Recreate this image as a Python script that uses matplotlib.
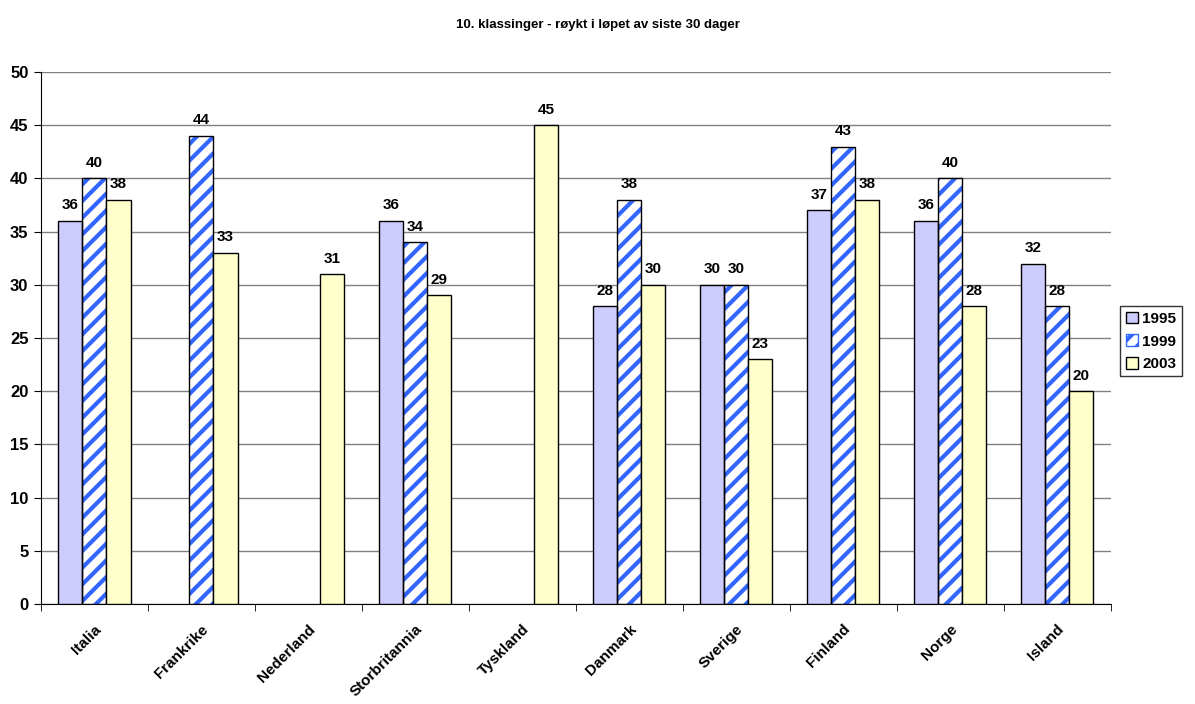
import numpy as np
import matplotlib.pyplot as plt
from matplotlib.patches import Patch
from matplotlib.transforms import ScaledTranslation

plt.rcParams['font.family'] = ['Liberation Sans', 'DejaVu Sans']
plt.rcParams['font.weight'] = 'bold'
plt.rcParams['hatch.linewidth'] = 3.0

countries = ['Italia', 'Frankrike', 'Nederland', 'Storbritannia', 'Tyskland',
             'Danmark', 'Sverige', 'Finland', 'Norge', 'Island']
years = ['1995', '1999', '2003']
v1995 = [36, np.nan, np.nan, 36, np.nan, 28, 30, 37, 36, 32]
v1999 = [40, 44, np.nan, 34, np.nan, 38, 30, 43, 40, 28]
v2003 = [38, 33, 31, 29, 45, 30, 23, 38, 28, 20]

fig = plt.figure(figsize=(11.95, 7.04), dpi=100)
ax = fig.add_axes([0.0343, 0.142, 0.895, 0.7557])

x = np.arange(len(countries))
w = 0.225
series = [v1995, v1999, v2003]

for i, vals in enumerate(series):
    pos = x + (i - 1) * w
    if i == 1:
        ax.bar(pos, vals, w, color='white', edgecolor='#3366ff', hatch='//',
               linewidth=0, zorder=2)
        ax.bar(pos, vals, w, fill=False, edgecolor='black', linewidth=1, zorder=3)
    else:
        fc = '#ccccff' if i == 0 else '#ffffcc'
        ax.bar(pos, vals, w, color=fc, edgecolor='black', linewidth=1, zorder=3)
    for px, v in zip(pos, vals):
        if not np.isnan(v):
            ax.text(px, v + 0.8, f'{v:.0f}', ha='center', va='bottom',
                    fontsize=11, fontweight='bold')

ax.set_xlim(-0.5, len(countries) - 0.5)
ax.set_ylim(0, 50)
ax.set_yticks(range(0, 51, 5))
ax.set_xticks(x)
ax.set_xticklabels(countries, rotation=45, ha='right', rotation_mode='anchor',
                   fontsize=11, fontweight='bold')
# nudge the rotated labels a little left of the group centre
offset = ScaledTranslation(-8 / 72, 0, fig.dpi_scale_trans)
for lab in ax.get_xticklabels():
    lab.set_transform(lab.get_transform() + offset)
ax.set_xticks(np.arange(-0.5, len(countries)), minor=True)
ax.tick_params(axis='x', which='major', length=0, pad=13)
ax.tick_params(axis='x', which='minor', length=5, direction='out')
ax.tick_params(axis='y', labelsize=12, length=5, direction='out', pad=4)
for lab in ax.get_yticklabels():
    lab.set_fontweight('bold')
ax.yaxis.grid(True, color='#808080', linewidth=1)
ax.set_axisbelow(True)
ax.spines['top'].set_visible(False)
ax.spines['right'].set_visible(False)

fig.text(0.5, 0.965, '10. klassinger - røykt i løpet av siste 30 dager',
         ha='center', va='center', fontsize=9.5, fontweight='bold')

handles = [Patch(facecolor='#ccccff', edgecolor='black'),
           Patch(facecolor='white', edgecolor='#3366ff', hatch='//'),
           Patch(facecolor='#ffffcc', edgecolor='black')]
leg = fig.legend(handles, years, loc='center left', bbox_to_anchor=(0.9375, 0.515),
                 frameon=True, fancybox=False, edgecolor='black', fontsize=11,
                 handlelength=0.8, handleheight=0.8, handletextpad=0.3,
                 borderpad=0.35, labelspacing=0.55, borderaxespad=0)
leg.get_frame().set_linewidth(1)

fig.savefig('out.png', dpi=100)
